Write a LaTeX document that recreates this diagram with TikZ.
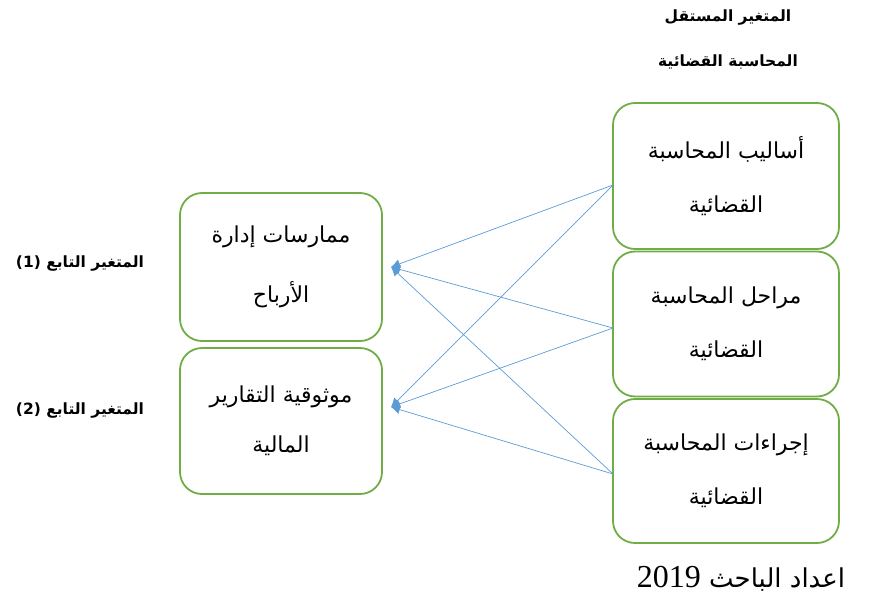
\documentclass[tikz,border=0pt]{standalone}
\usepackage{fontspec}
\TeXXeTstate=1
\newfontfamily\arabicfont[Script=Arabic]{DejaVu Sans}
\newfontfamily\serifdigits{Liberation Serif}
\usetikzlibrary{arrows.meta}
\definecolor{boxgreen}{HTML}{70AD47}
\definecolor{arrowblue}{HTML}{5B9BD5}
\tikzset{
  vbox/.style={draw=boxgreen, line width=1.8pt, rounded corners=22pt, inner sep=0pt, align=center},
  rbox/.style={vbox, minimum width=226pt, font=\arabicfont\fontsize{22}{54}\selectfont},
  lbox/.style={vbox, minimum width=202pt, font=\arabicfont\fontsize{22}{56}\selectfont},
  hlabel/.style={font=\arabicfont\bfseries\fontsize{15.5}{18}\selectfont, inner sep=0pt},
  arr/.style={draw=arrowblue, line width=0.7pt, -{Latex[length=9pt,width=9pt]}}
}
\begin{document}
\begin{tikzpicture}[x=1pt,y=-1pt]
\useasboundingbox (0,0) rectangle (881,605);
% right boxes
\node[rbox, minimum height=146pt] (r1) at (726,176) {\beginR أساليب المحاسبة\endR\\\beginR القضائية\endR};
\node[rbox, minimum height=145pt] (r2) at (726,324) {\beginR مراحل المحاسبة\endR\\\beginR القضائية\endR};
\node[rbox, minimum height=144pt] (r3) at (726,471) {\beginR إجراءات المحاسبة\endR\\\beginR القضائية\endR};
% left boxes
\node[lbox, minimum height=148pt, font=\arabicfont\fontsize{22}{60}\selectfont] (l1) at (281,267) {\beginR ممارسات إدارة\endR\\\beginR الأرباح\endR};
\node[lbox, minimum height=146pt, font=\arabicfont\fontsize{22}{50}\selectfont] (l2) at (281,421) {\beginR موثوقية التقارير\endR\\\beginR المالية\endR};
% header and side labels
\node[hlabel] (h1) at (728,18) {\beginR المتغير المستقل\endR};
\node[hlabel] (h2) at (728,62) {\beginR المحاسبة القضائية\endR};
\node[hlabel] (d1) at (80,264) {\beginR المتغير التابع \beginL(1)\endL\endR};
\node[hlabel] (d2) at (80,410) {\beginR المتغير التابع \beginL(2)\endL\endR};
\node[font=\arabicfont\fontsize{26}{30}\selectfont, inner sep=0pt] (src) at (741,579) {\beginR اعداد الباحث \beginL{\serifdigits\fontsize{32}{34}\selectfont 2019}\endL\endR};
% connector end points
\coordinate (s1) at (613,185);
\coordinate (s2) at (613,328);
\coordinate (s3) at (613,474);
\coordinate (t1) at (391,267);
\coordinate (t2) at (391,407);
\draw[arr] (s1) -- (t1);
\draw[arr] (s1) -- (t2);
\draw[arr] (s2) -- (t1);
\draw[arr] (s2) -- (t2);
\draw[arr] (s3) -- (t1);
\draw[arr] (s3) -- (t2);
\end{tikzpicture}
\end{document}
